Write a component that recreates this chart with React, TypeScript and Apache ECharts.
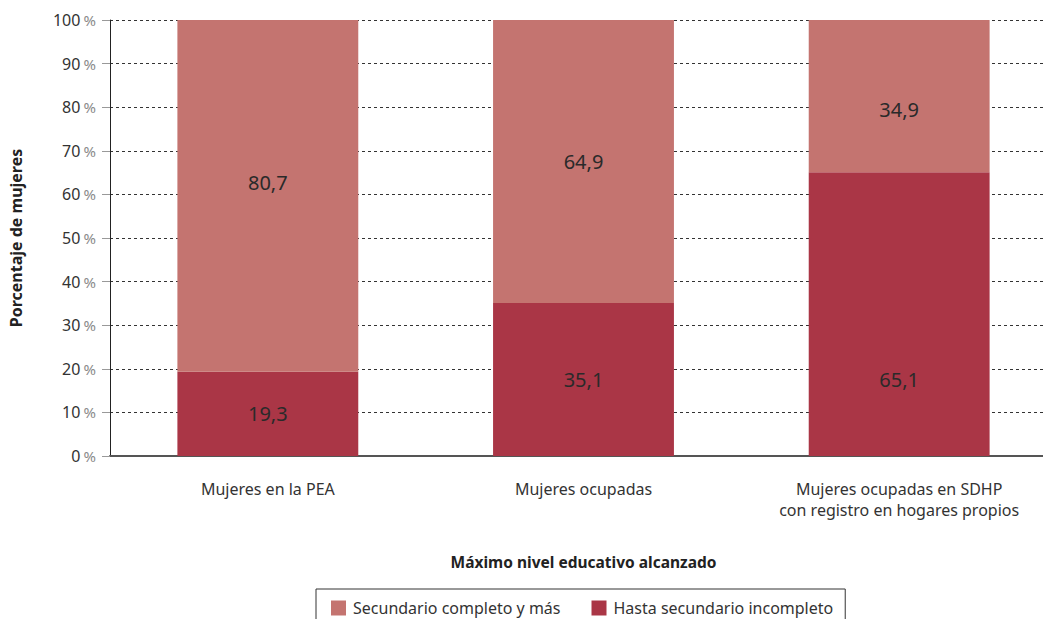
import React, { useEffect, useRef } from "react";
import * as echarts from "echarts";

const categories = ["Mujeres en la PEA", "Mujeres ocupadas", "Mujeres ocupadas en SDHP\ncon registro en hogares propios"];
const hastaIncompleto = [19.3, 35.1, 65.1];
const secundarioCompleto = [80.7, 64.9, 34.9];
const seriesNames = ["Secundario completo y más", "Hasta secundario incompleto"];
const yTicks = [0, 10, 20, 30, 40, 50, 60, 70, 80, 90, 100];
// vertical nudges of the value labels, as placed in the original
const lowerLabelShift = [0, 0, 65];
const upperLabelShift = [-13, 0, 13];

const FONT = "Noto Sans";

export default function App() {
  const ref = useRef<HTMLDivElement>(null);
  useEffect(() => {
    if (!ref.current) return;
    const chart = echarts.init(ref.current, null, { renderer: "svg" });
    const fmt = (v: number) => v.toFixed(1).replace(".", ",");
    const labelBase = { show: true, position: "inside", fontSize: 20, color: "#2a2a2a", fontFamily: FONT, formatter: (p: any) => fmt(p.value) };
    chart.setOption({
      animation: false,
      textStyle: { fontFamily: FONT },
      grid: { left: 107, right: 0, top: 20, bottom: 163, containLabel: false },
      legend: {
        bottom: -17,
        left: 316,
        itemWidth: 15,
        itemHeight: 15,
        itemGap: 31,
        padding: [11, 12, 20, 15],
        borderColor: "#333",
        borderWidth: 1,
        icon: "rect",
        textStyle: { fontSize: 16, color: "#333", fontFamily: FONT, padding: [0, 0, 0, 2] },
        data: [seriesNames[0], seriesNames[1]],
      },
      xAxis: {
        type: "category",
        data: categories,
        name: "Máximo nivel educativo alcanzado",
        nameLocation: "middle",
        nameGap: 98,
        nameTextStyle: { fontSize: 15.5, fontWeight: "bold", color: "#222", fontFamily: FONT },
        axisLine: { lineStyle: { color: "#555", width: 2 } },
        axisTick: { show: false },
        axisLabel: { fontSize: 16, color: "#333", margin: 22, lineHeight: 21, fontFamily: FONT },
      },
      yAxis: {
        type: "value",
        min: 0,
        max: 100,
        interval: 10,
        name: "Porcentaje de mujeres",
        nameLocation: "middle",
        nameGap: 86,
        nameTextStyle: { fontSize: 16, fontWeight: "bold", color: "#222", fontFamily: FONT },
        axisLine: { show: true, lineStyle: { color: "#222", width: 1 } },
        axisTick: { show: true, length: 8, lineStyle: { color: "#999" } },
        splitLine: { lineStyle: { color: "#333", type: [3, 3], width: 1 } },
        axisLabel: {
          margin: 14,
          formatter: (v: number) => (yTicks.includes(v) ? `{n|${v}} {p|%}` : ""),
          rich: {
            n: { fontSize: 16, color: "#333", fontFamily: FONT },
            p: { fontSize: 15, color: "#8a8a8a", fontFamily: FONT },
          },
        },
      },
      series: [
        {
          name: seriesNames[1],
          type: "bar",
          stack: "t",
          barWidth: "57.3%",
          data: hastaIncompleto.map((v, i) => ({ value: v, label: { offset: [0, lowerLabelShift[i]] } })),
          itemStyle: { color: "#AA3646" },
          label: labelBase,
        },
        {
          name: seriesNames[0],
          type: "bar",
          stack: "t",
          barWidth: "57.3%",
          data: secundarioCompleto.map((v, i) => ({ value: v, label: { offset: [0, upperLabelShift[i]] } })),
          itemStyle: { color: "#C47470" },
          label: labelBase,
        },
      ],
    });
    return () => chart.dispose();
  }, []);
  return (
    <div style={{ position: "fixed", left: 0, top: 0, width: 1043, height: 619, overflow: "hidden", background: "#fff" }}>
      <div ref={ref} style={{ width: 1057, height: 619 }} />
    </div>
  );
}
